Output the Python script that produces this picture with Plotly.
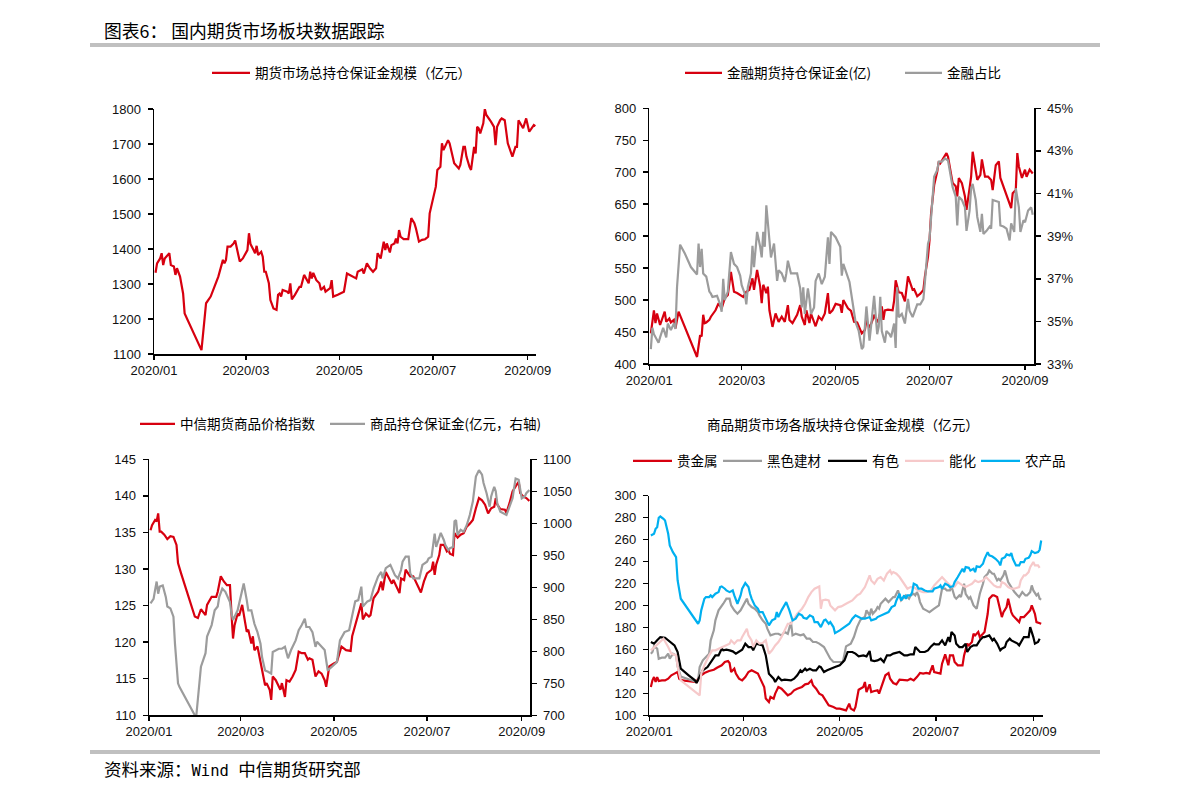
import plotly.graph_objects as go

W, H = 1191, 796

# ---------------- data ----------------
# Panel 1: 期货市场总持仓保证金规模（亿元）
p1_dates = ["01-02","01-03","01-05","01-06","01-07","01-08","01-11","01-12","01-14","01-15","01-16","01-18","01-20","01-21",
            "02-01","02-03","02-04","02-07","02-10","02-12","02-15","02-16","02-17","02-18","02-20","02-22","02-23","02-24","02-26","02-28",
            "03-02","03-03","03-04","03-06","03-07","03-08","03-09","03-11","03-12","03-13","03-14","03-16","03-17","03-19","03-21","03-22","03-23","03-24","03-25","03-28","03-29","03-30","03-31",
            "04-02","04-05","04-06","04-08","04-11","04-12","04-13","04-14","04-16","04-18","04-19","04-21","04-22","04-25","04-26","04-27","04-30",
            "05-04","05-06","05-10","05-12","05-13","05-16","05-17","05-19","05-21","05-23","05-25","05-26","05-28","05-30","05-31",
            "06-01","06-03","06-04","06-06","06-07","06-08","06-09","06-10","06-12","06-15","06-17","06-19","06-20","06-22","06-24","06-26","06-28","06-29",
            "07-01","07-03","07-04","07-06","07-07","07-08","07-11","07-12","07-15","07-18","07-19","07-21","07-22","07-23","07-25","07-26","07-28","07-29","07-30","07-31",
            "08-01","08-03","08-04","08-05","08-08","08-10","08-11","08-12","08-14","08-15","08-17","08-19","08-22","08-24","08-25","08-26","08-29","08-31",
            "09-02","09-05","09-06"]
p1_total = [1332,1359,1373,1388,1354,1373,1388,1354,1350,1326,1345,1321,1273,1216,
            1111,1188,1245,1264,1302,1321,1369,1359,1369,1407,1407,1416,1424,1402,1364,1373,
            1397,1445,1414,1397,1388,1409,1383,1392,1378,1335,1335,1302,1254,1230,1226,1269,1273,1264,1283,1278,1273,1302,1256,
            1269,1292,1292,1326,1302,1335,1316,1332,1311,1302,1283,1292,1278,1288,1311,1264,1269,
            1278,1330,1321,1316,1335,1342,1330,1359,1345,1335,1345,1388,1373,1421,1397,
            1416,1390,1411,1416,1430,1416,1454,1435,1428,1428,1488,1474,1459,1421,1426,1428,1435,1502,
            1540,1578,1626,1635,1702,1683,1711,1702,1645,1630,1640,1692,1692,1664,1635,1626,1692,1673,1749,1745,
            1730,1759,1800,1783,1764,1749,1697,1749,1768,1773,1768,1702,1664,1692,1692,1768,1745,1773,
            1735,1754,1751]

# Panel 2: 金融期货持仓保证金(亿) / 金融占比(%)
p2_fin_dates = ["01-02","01-04","01-05","01-06","01-08","01-11","01-12","01-14","01-15","01-17","01-18","01-20",
                "02-01","02-03","02-04","02-05","02-06","02-07","02-09","02-10","02-13","02-15","02-17","02-19","02-21","02-23","02-25","02-27",
                "03-02","03-04","03-06","03-08","03-09","03-11","03-13","03-14","03-15","03-17","03-18","03-19","03-21","03-23","03-25","03-27","03-29","03-31",
                "04-01","04-03","04-06","04-08","04-09","04-11","04-12","04-14","04-15","04-18","04-20","04-22","04-24","04-26","04-27","04-29",
                "05-01","05-04","05-05","05-06","05-09","05-11","05-13","05-15","05-18","05-20","05-21","05-23","05-25","05-26","05-28","05-29","05-31",
                "06-01","06-02","06-04","06-07","06-08","06-09","06-11","06-13","06-15","06-17","06-19","06-20","06-21","06-23","06-25","06-27","06-28","06-30",
                "07-01","07-02","07-04","07-06","07-07","07-08","07-10","07-12","07-13","07-15","07-16","07-18","07-19","07-20","07-22","07-24","07-25","07-27","07-28","07-29","07-31",
                "08-01","08-03","08-04","08-06","08-08","08-10","08-11","08-13","08-15","08-16","08-19","08-21","08-23","08-24","08-26","08-27","08-28","08-30",
                "09-01","09-02","09-04","09-06"]
p2_fin_margin = [448,484,464,479,461,482,466,471,465,469,456,482,
                 411,445,443,477,464,465,469,474,484,495,487,503,508,544,513,511,
                 505,513,516,534,516,547,521,495,524,511,521,484,458,479,466,474,466,492,
                 469,464,477,492,474,461,484,464,479,459,474,469,479,511,479,484,
                 494,492,480,500,487,483,466,465,448,453,469,456,469,477,465,471,490,
                 469,484,485,484,499,531,512,511,498,537,524,516,517,506,510,516,537,568,
                 594,636,680,701,717,714,722,730,724,698,683,678,662,691,683,662,641,675,693,732,701,
                 688,696,720,693,693,688,672,711,717,691,672,658,644,667,672,730,709,691,
                 704,693,704,698]

p2_share_dates = ["01-02","01-03","01-04","01-05","01-07","01-08","01-10","01-12","01-13","01-15","01-17","01-18","01-19","01-21","01-24","01-28",
                  "02-01","02-02","02-03","02-04","02-05","02-07","02-09","02-10","02-11","02-14","02-16","02-17","02-18","02-19","02-21","02-23","02-25","02-27","02-29",
                  "03-01","03-03","03-04","03-05","03-07","03-08","03-09","03-11","03-13","03-14","03-15","03-16","03-17","03-19","03-20","03-22","03-24","03-25","03-27","03-29","03-30","03-31",
                  "04-02","04-06","04-08","04-09","04-10","04-11","04-13","04-14","04-15","04-17","04-18","04-20","04-22","04-24","04-26","04-27","04-28",
                  "05-01","05-04","05-05","05-06","05-10","05-12","05-14","05-16","05-18","05-19","05-21","05-22","05-23","05-24","05-26","05-28","05-29","05-30","05-31",
                  "06-02","06-03","06-05","06-06","06-08","06-09","06-10","06-11","06-13","06-15","06-17","06-18","06-20","06-23","06-25","06-27","06-28","06-30",
                  "07-01","07-02","07-04","07-06","07-07","07-09","07-11","07-13","07-15","07-16","07-18","07-19","07-20","07-22","07-24","07-25","07-27","07-28","07-29","07-31",
                  "08-01","08-03","08-04","08-05","08-07","08-09","08-10","08-11","08-15","08-16","08-18","08-20","08-22","08-23","08-25","08-26","08-28","08-29","08-31",
                  "09-01","09-03","09-05","09-06"]
p2_fin_share = [33.7,34.7,34.4,34.25,34.0,34.25,34.7,34.25,34.9,34.6,34.9,34.65,36.6,38.6,38.2,37.55,
                37.2,38.65,37.55,38.4,37.25,37.1,36.4,36.3,36.15,36.2,35.8,35.45,37.0,36.0,36.4,38.25,37.7,37.55,37.15,
                36.7,36.3,35.8,36.6,37.25,38.55,37.55,39.2,38.5,38.0,39.2,38.5,40.45,38.5,38.0,38.65,36.9,37.4,37.25,36.85,37.25,37.85,
                37.25,37.25,36.55,35.65,36.6,35.35,36.55,36.05,35.35,35.65,36.9,37.25,36.75,37.1,38.95,37.7,39.2,
                38.95,38.5,37.15,37.7,36.85,35.8,34.95,34.55,33.7,33.8,35.7,34.9,34.1,34.75,36.2,34.4,34.75,36.15,34.55,
                34.0,34.55,34.4,34.25,34.9,33.75,36.6,35.2,35.35,34.9,36.05,35.5,35.2,35.8,35.8,36.05,36.85,38.65,
                38.9,40.0,41.8,42.1,42.5,42.5,42.65,42.55,41.65,41.3,40.85,39.5,40.85,40.7,40.35,39.25,40.2,41.25,41.45,40.7,
                39.9,39.2,40.05,39.1,39.25,39.45,39.35,40.7,40.6,39.5,39.45,39.35,38.8,39.6,39.2,41.25,40.35,39.2,39.75,
                39.65,40.2,40.35,40.0]

# Panel 3: 中信期货商品价格指数 / 商品持仓保证金(亿元，右轴)
p3_idx_dates = ["01-02","01-03","01-05","01-06","01-07","01-08","01-09","01-11","01-13","01-15","01-17","01-19","01-20","01-22","01-31",
                "02-02","02-04","02-05","02-07","02-08","02-11","02-14","02-15","02-17","02-19","02-21","02-23","02-24","02-25","02-26","02-28","02-29",
                "03-02","03-04","03-05","03-06","03-08","03-09","03-10","03-12","03-14","03-15","03-17","03-18","03-20","03-21","03-22","03-24","03-26","03-27","03-28","03-30","03-31",
                "04-02","04-04","04-06","04-08","04-10","04-12","04-14","04-15","04-17","04-19","04-21","04-23","04-25","04-26","04-28",
                "05-01","05-03","05-06","05-08","05-09","05-12","05-13","05-15","05-17","05-19","05-20","05-22","05-24","05-25","05-27","05-30",
                "06-01","06-02","06-04","06-06","06-08","06-09","06-11","06-13","06-14","06-16","06-17","06-20","06-22","06-25","06-27","06-29",
                "07-01","07-04","07-05","07-06","07-07","07-09","07-10","07-12","07-14","07-15","07-16","07-18","07-19","07-21","07-23","07-25","07-27","07-29","07-31",
                "08-02","08-04","08-06","08-08","08-10","08-12","08-14","08-15","08-16","08-18","08-21","08-22","08-24","08-26","08-28","08-30","08-31",
                "09-02","09-04","09-06"]
p3_index = [135.3,136.0,136.7,136.5,137.6,135.1,135.1,134.7,134.1,134.5,134.4,133.3,130.8,129.4,123.5,
            123.3,124.5,124.2,123.7,125.1,126.2,126.2,126.9,129.0,128.3,127.8,127.8,123.9,120.5,122.3,123.9,123.6,
            125.1,122.6,121.4,121.7,119.8,120.8,118.9,119.4,117.3,116.0,114.1,114.4,113.5,112.1,115.3,114.8,113.9,113.5,114.4,112.5,114.8,
            114.6,115.3,116.2,118.7,118.5,118.5,117.6,117.8,117.6,115.3,116.0,115.7,114.8,113.9,116.7,
            117.1,117.3,119.4,119.1,118.9,118.8,120.8,122.3,123.9,125.3,123.1,123.9,123.5,123.7,126.0,126.9,
            128.3,127.1,129.6,128.7,128.0,128.5,127.6,126.7,128.7,128.5,129.9,129.0,129.0,127.6,126.8,128.3,
            129.4,129.9,131.0,129.2,130.6,131.9,133.3,133.3,132.4,132.6,132.1,131.9,134.9,134.3,134.7,134.9,135.8,136.2,136.7,
            138.3,139.7,139.4,138.8,137.6,138.3,138.5,139.7,138.8,138.2,138.1,137.7,139.0,140.6,141.3,141.9,140.4,
            139.9,139.7,139.3]

p3_cm_dates = ["01-02","01-04","01-05","01-06","01-07","01-08","01-10","01-12","01-13","01-15","01-17","01-18","01-20","01-21","01-31",
               "02-01","02-04","02-05","02-07","02-08","02-11","02-13","02-15","02-16","02-18","02-20","02-22","02-23","02-24","02-25","02-28",
               "03-02","03-03","03-05","03-06","03-08","03-10","03-12","03-14","03-15","03-17","03-19","03-21","03-22","03-24","03-26","03-28","03-30",
               "04-01","04-03","04-06","04-08","04-10","04-12","04-13","04-15","04-17","04-19","04-20","04-23","04-25","04-27","04-30",
               "05-03","05-05","05-08","05-11","05-12","05-14","05-15","05-17","05-19","05-20","05-23","05-25","05-27","05-30",
               "06-01","06-02","06-04","06-07","06-08","06-10","06-12","06-14","06-15","06-17","06-19","06-20","06-22","06-26","06-28",
               "07-01","07-02","07-04","07-05","07-06","07-07","07-08","07-10","07-12","07-13","07-15","07-16","07-18","07-19","07-20","07-21","07-23","07-25","07-27","07-29","07-31",
               "08-02","08-04","08-06","08-07","08-09","08-11","08-12","08-13","08-14","08-15","08-16","08-18","08-20","08-22","08-24","08-26","08-27","08-28","08-30","08-31",
               "09-01","09-03","09-04","09-06"]
p3_cm_margin = [875,882,896,909,890,901,903,885,870,867,854,812,750,744,700,
                700,776,783,797,823,841,864,870,885,898,893,883,877,859,849,864,
                896,906,880,864,864,843,830,812,791,770,768,765,799,802,804,804,807,
                789,802,817,833,841,851,838,838,830,807,815,807,802,770,776,
                783,817,830,833,844,870,878,880,901,870,878,880,898,917,
                924,914,930,935,930,919,914,927,940,948,948,922,914,914,935,
                940,945,948,966,984,963,971,985,974,966,958,961,963,1003,1005,982,990,987,997,1013,1034,
                1073,1083,1076,1063,1047,1026,1042,1050,1057,1050,1031,1018,1016,1013,1026,1039,1055,1070,1068,1055,
                1039,1042,1047,1052]

# Panel 4: 商品期货市场各版块持仓保证金规模（亿元）
p4_pm_dates = ["01-02","01-03","01-04","01-05","01-06","01-07","01-09","01-11","01-13","01-15","01-17","01-19","01-20","01-22","01-31",
               "02-01","02-03","02-05","02-08","02-11","02-13","02-16","02-18","02-20","02-21","02-22","02-24","02-25","02-27","02-29",
               "03-02","03-04","03-06","03-08","03-10","03-12","03-14","03-15","03-17","03-18","03-20","03-21","03-23","03-25","03-27","03-29","03-31",
               "04-02","04-04","04-07","04-09","04-11","04-13","04-14","04-16","04-18","04-20","04-22","04-24","04-27","04-29",
               "05-01","05-03","05-05","05-07","05-08","05-10","05-11","05-13","05-15","05-16","05-17","05-18","05-20","05-21","05-23","05-25","05-26","05-28","05-29","05-30",
               "06-01","06-02","06-04","06-06","06-08","06-11","06-13","06-15","06-17","06-19","06-21","06-23","06-25","06-27","06-29","06-30",
               "07-02","07-04","07-05","07-07","07-09","07-10","07-12","07-13","07-15","07-18","07-19","07-21","07-22","07-23","07-24","07-25","07-26","07-28","07-29","07-31",
               "08-01","08-03","08-04","08-06","08-07","08-09","08-11","08-12","08-13","08-14","08-15","08-16","08-18","08-19","08-21","08-23","08-24","08-26","08-28","08-30","08-31",
               "09-02","09-03","09-05","09-06"]
p4_precious = [125.8,131.8,134.8,130.3,134.8,131.2,131.8,131.8,133.3,136.4,137.9,139.4,133.3,131.8,130.3,
               133.3,136.4,138.5,140.3,141.5,143.3,145.5,148.5,149.4,147.6,139.4,142.4,137.9,133.3,131.8,
               134.8,139.4,140.9,139.4,137.9,131.8,125.8,115.2,112.1,116.7,115.2,119.7,125.8,124.2,121.2,118.2,119.7,
               122.7,124.2,125.8,128.2,128.8,131.8,127.3,124.2,119.7,118.2,113.6,109.1,107.6,106.1,
               106.1,105.2,104.5,110.6,106.1,104.5,107.6,123.3,125.2,125.8,130.3,121.2,128.2,121.2,122.1,122.7,119.7,128.8,131.8,136.4,
               138.5,133.3,129.4,128.2,132.4,132.4,131.8,133.3,131.8,134.8,138.5,137.9,138.5,137.9,145.5,139.4,
               138.5,137.9,147.0,155.5,145.5,154.5,154.5,148.5,145.5,145.5,154.5,165.2,163.6,165.2,166.7,174.2,172.7,175.8,171.2,174.2,
               175.8,192.4,206.1,209.1,209.1,207.6,197.0,189.4,193.9,197.0,198.5,206.1,193.9,190.9,187.9,184.8,189.4,189.4,192.4,195.5,200.0,
               192.4,184.8,183.3,183.3]

p4_fb_dates = ["01-02","01-03","01-04","01-06","01-07","01-09","01-11","01-13","01-14","01-16","01-18","01-19","01-21","01-31",
               "02-01","02-02","02-04","02-06","02-08","02-09","02-11","02-12","02-14","02-17","02-19","02-21","02-22","02-24","02-26","02-28",
               "03-02","03-03","03-04","03-06","03-08","03-10","03-11","03-13","03-15","03-16","03-18","03-21","03-23","03-25","03-27","03-29","03-31",
               "04-01","04-03","04-06","04-08","04-10","04-12","04-14","04-16","04-18","04-21","04-23","04-25","04-27",
               "05-03","05-05","05-08","05-10","05-12","05-14","05-15","05-17","05-18","05-20","05-21","05-22","05-24","05-25","05-26","05-27","05-29","05-30",
               "06-01","06-02","06-04","06-05","06-07","06-08","06-09","06-11","06-12","06-14","06-15","06-17","06-18","06-19","06-20","06-21","06-23","06-25","06-27","06-30",
               "07-03","07-05","07-07","07-08","07-10","07-11","07-13","07-14","07-16","07-17","07-19","07-20","07-22","07-23","07-25","07-27","07-29","07-31",
               "08-01","08-03","08-04","08-06","08-07","08-09","08-10","08-11","08-13","08-14","08-15","08-16","08-18","08-20","08-22","08-23","08-25","08-27","08-28","08-30","08-31",
               "09-01","09-03","09-04","09-05","09-06"]
p4_ferrous = [156.1,157.6,162.7,160.6,151.5,152.4,152.4,156.1,151.5,156.1,154.5,144.5,135.2,130.3,
              131.8,144.0,150.0,153.0,156.1,168.2,177.3,186.4,195.5,201.5,206.1,206.1,200.0,195.5,192.4,195.5,
              204.5,206.1,201.5,198.5,197.0,193.9,190.9,186.4,183.3,178.8,172.7,174.2,174.2,172.7,175.8,174.2,184.8,
              172.7,174.2,172.7,173.6,169.7,169.7,166.7,166.7,165.2,162.1,156.1,151.5,148.5,
              148.5,162.7,165.2,171.2,180.3,186.4,187.9,189.4,195.5,190.9,197.0,192.4,195.5,198.5,197.0,201.5,204.5,206.1,
              203.0,204.5,207.6,207.6,213.6,209.1,204.5,207.6,209.1,206.1,209.1,210.6,209.1,212.1,209.1,203.0,197.0,195.5,193.9,197.0,
              200.0,215.2,215.2,213.6,213.6,217.3,207.6,206.1,209.1,207.6,219.7,210.6,206.1,207.6,200.0,197.0,210.6,219.7,
              225.8,228.8,231.8,228.8,228.8,222.7,224.2,222.7,227.3,231.8,225.8,221.2,216.7,212.1,209.1,207.6,212.1,209.1,209.1,212.1,218.2,
              213.6,209.1,210.6,206.1,205.2]

p4_nf_dates = ["01-02","01-04","01-06","01-08","01-11","01-13","01-15","01-17","01-19","01-21","01-26","01-30","01-31",
               "02-02","02-04","02-07","02-09","02-10","02-12","02-14","02-16","02-17","02-19","02-21","02-23","02-25","02-27","02-29",
               "03-02","03-04","03-06","03-07","03-09","03-11","03-13","03-15","03-16","03-17","03-20","03-21","03-23","03-25","03-27","03-29","03-31",
               "04-02","04-04","04-06","04-07","04-09","04-10","04-12","04-14","04-16","04-18","04-19","04-21","04-23","04-25","04-28",
               "05-01","05-02","05-04","05-06","05-09","05-11","05-13","05-16","05-18","05-20","05-21","05-23","05-25","05-27","05-29","05-31",
               "06-02","06-04","06-06","06-08","06-11","06-13","06-15","06-17","06-18","06-19","06-21","06-24","06-26","06-28","06-30",
               "07-01","07-03","07-05","07-07","07-09","07-10","07-11","07-13","07-14","07-16","07-18","07-20","07-21","07-23","07-25","07-27","07-29","07-31",
               "08-01","08-03","08-04","08-06","08-07","08-09","08-11","08-12","08-14","08-15","08-17","08-18","08-20","08-22","08-23","08-25","08-26","08-29","08-30",
               "09-01","09-02","09-04","09-05"]
p4_nonferrous = [166.7,165.2,168.2,171.2,170.6,168.2,165.2,163.6,157.6,142.4,136.4,131.8,129.4,
                 134.8,140.9,143.9,148.5,150.0,154.5,154.5,160.6,159.1,159.7,159.1,158.2,156.1,157.6,159.7,
                 165.2,162.1,162.1,159.1,165.2,164.2,163.6,154.5,143.9,137.9,133.3,130.3,134.8,131.8,132.4,131.8,131.8,
                 133.3,136.4,140.9,139.4,142.4,140.9,142.4,140.9,140.9,144.5,143.9,139.4,140.9,142.4,143.9,
                 145.5,147.0,150.0,157.6,157.6,156.1,153.6,154.5,153.6,158.5,150.0,149.4,150.0,151.5,148.5,154.5,
                 154.5,156.1,156.7,157.6,154.5,154.5,155.5,155.5,162.1,160.6,157.6,157.6,159.1,162.7,165.2,
                 164.5,164.5,168.2,163.6,171.2,166.7,175.8,172.7,165.2,162.1,162.1,165.2,157.6,162.1,163.6,163.6,168.2,171.2,
                 171.2,171.8,172.7,168.2,169.7,165.2,159.1,160.6,162.1,166.7,169.7,168.2,166.7,165.2,163.6,169.7,171.2,171.2,180.3,
                 171.2,165.2,166.7,169.7]

p4_en_dates = ["01-02","01-05","01-07","01-10","01-13","01-15","01-18","01-19","01-21",
               "02-02","02-03","02-05","02-08","02-10","02-12","02-14","02-17","02-19","02-21","02-22","02-23","02-24","02-26","02-28","02-29",
               "03-02","03-03","03-04","03-06","03-07","03-09","03-11","03-13","03-15","03-17","03-19","03-21","03-23","03-25","03-27","03-29","03-31",
               "04-02","04-04","04-07","04-09","04-11","04-13","04-15","04-17","04-18","04-19","04-20","04-22","04-24","04-25","04-28","04-30",
               "05-02","05-05","05-09","05-12","05-14","05-17","05-20","05-21","05-23","05-25","05-27","05-29","05-31",
               "06-02","06-03","06-04","06-06","06-08","06-11","06-13","06-15","06-17","06-20","06-23","06-25","06-28","06-30",
               "07-03","07-05","07-07","07-09","07-11","07-13","07-15","07-18","07-20","07-22","07-24","07-26","07-28","07-31",
               "08-02","08-03","08-04","08-07","08-09","08-11","08-12","08-14","08-16","08-18","08-20","08-23","08-24","08-26","08-27","08-29","08-30",
               "09-01","09-02","09-04","09-05"]
p4_energy = [159.1,163.0,165.5,169.7,162.1,156.1,154.5,144.5,131.8,
             118.2,137.9,145.5,154.5,159.1,159.1,160.6,162.1,163.6,165.2,168.2,166.7,165.2,168.2,168.2,171.2,
             175.8,178.8,172.7,168.2,162.1,168.2,165.2,165.8,168.2,156.1,159.1,163.6,166.7,171.2,177.3,183.3,183.3,
             187.9,192.4,197.0,201.5,207.6,212.1,215.2,216.7,217.3,197.0,204.5,205.2,204.5,200.0,195.5,198.5,
             199.1,201.5,204.5,209.1,210.6,216.7,227.3,222.7,219.7,224.2,225.8,222.7,228.8,
             231.8,228.8,230.3,228.8,225.8,219.7,215.2,216.7,216.7,213.6,212.1,212.1,213.6,218.2,
             222.7,225.8,222.7,219.7,216.7,217.3,221.2,218.2,216.7,218.2,219.7,222.7,221.2,222.7,
             225.8,224.2,222.7,218.2,216.7,216.7,221.2,219.7,216.7,215.2,215.2,216.7,222.7,227.3,227.3,230.3,234.8,
             239.4,236.4,236.4,234.2]

p4_ag_dates = ["01-02","01-04","01-05","01-06","01-07","01-08","01-10","01-11","01-13","01-14","01-16","01-18","01-19","01-21",
               "02-01","02-02","02-03","02-05","02-06","02-08","02-09","02-10","02-12","02-14","02-15","02-16","02-18","02-19","02-21","02-23","02-24","02-26","02-28","02-29",
               "03-02","03-04","03-05","03-06","03-08","03-10","03-11","03-13","03-14","03-15","03-17","03-19","03-21","03-22","03-23","03-25","03-26","03-27","03-28","03-30",
               "04-01","04-03","04-05","04-07","04-08","04-10","04-12","04-14","04-15","04-17","04-19","04-21","04-22","04-24","04-25","04-27","04-28",
               "05-01","05-04","05-07","05-09","05-11","05-13","05-15","05-17","05-20","05-21","05-24","05-25","05-27","05-29","05-30",
               "06-01","06-03","06-05","06-06","06-08","06-09","06-11","06-12","06-13","06-15","06-16","06-17","06-19","06-20","06-22","06-24","06-26","06-29","06-30",
               "07-03","07-04","07-05","07-07","07-09","07-10","07-12","07-13","07-15","07-16","07-18","07-19","07-20","07-22","07-23","07-25","07-26","07-27","07-29","07-31",
               "08-01","08-03","08-04","08-06","08-08","08-10","08-11","08-12","08-14","08-15","08-17","08-18","08-19","08-21","08-23","08-24","08-26","08-27","08-29","08-30","08-31",
               "09-02","09-04","09-05","09-06"]
p4_agri = [263.6,265.2,269.7,271.2,279.7,280.9,278.8,277.3,265.2,254.5,248.5,244.0,222.7,206.1,
           183.3,186.4,195.5,206.1,207.6,207.6,209.1,207.6,210.6,212.1,216.7,217.3,215.2,213.6,212.1,213.6,209.1,201.5,209.1,215.2,
           220.3,216.7,210.6,206.1,200.0,197.0,193.9,193.9,190.9,187.9,181.8,186.4,187.9,193.9,189.4,195.5,198.5,201.5,203.0,195.5,
           186.4,187.9,192.4,190.9,188.8,187.9,190.9,189.4,184.8,184.8,180.3,186.4,187.0,183.3,184.8,180.3,174.8,
           177.3,180.3,183.3,187.9,190.9,189.4,187.9,187.9,189.4,186.4,187.9,189.4,190.9,192.4,192.4,
           193.9,198.5,200.0,204.5,210.6,204.5,209.1,206.1,209.1,209.1,212.1,219.7,218.2,215.2,215.2,213.6,212.7,212.7,215.2,
           216.7,218.2,215.2,219.7,218.2,216.7,217.3,221.2,225.8,228.8,233.3,230.3,234.8,234.2,231.8,233.3,230.3,235.5,234.8,237.9,
           242.4,248.5,245.5,244.5,242.4,239.4,236.4,242.4,243.9,246.4,245.5,247.6,242.4,236.4,236.4,239.4,239.4,242.4,243.3,245.5,249.4,
           247.6,248.5,250.6,259.1]

# ---------------- styling ----------------
RED = "#d7000f"
GREY = "#9c9c9c"
BLACK = "#000000"
PINK = "#f6c9ca"
BLUE = "#00b0f0"
CJK = "Noto Sans CJK SC"
NUM = "Liberation Sans"
TICKFONT = dict(family=NUM, size=13, color="#111111")


def full(ds):
    return ["2020-" + d for d in ds]


def px_x(p):
    return p / W


def px_y(p):
    return 1 - p / H


fig = go.Figure()


def add(dates, vals, name, color, xa, ya, legend, lw=None):
    assert len(dates) == len(vals), (name, len(dates), len(vals))
    fig.add_trace(go.Scatter(
        x=full(dates), y=vals, name=name, mode="lines",
        line=dict(color=color, width=2.2), xaxis=xa, yaxis=ya,
        legend=legend, legendwidth=lw, hoverinfo="skip"))


add(p1_dates, p1_total, "期货市场总持仓保证金规模（亿元）", RED, "x", "y", "legend")
add(p2_fin_dates, p2_fin_margin, "金融期货持仓保证金(亿)", RED, "x2", "y2", "legend2", 168)
add(p2_share_dates, p2_fin_share, "金融占比", GREY, "x2", "y3", "legend2")
add(p3_idx_dates, p3_index, "中信期货商品价格指数", RED, "x3", "y4", "legend3", 140)
add(p3_cm_dates, p3_cm_margin, "商品持仓保证金(亿元，右轴)", GREY, "x3", "y5", "legend3")
add(p4_pm_dates, p4_precious, "贵金属", RED, "x4", "y6", "legend4", 36)
add(p4_fb_dates, p4_ferrous, "黑色建材", GREY, "x4", "y6", "legend4", 51)
add(p4_nf_dates, p4_nonferrous, "有色", BLACK, "x4", "y6", "legend4", 23)
add(p4_en_dates, p4_energy, "能化", PINK, "x4", "y6", "legend4", 22)
add(p4_ag_dates, p4_agri, "农产品", BLUE, "x4", "y6", "legend4")


def xax(x0, x1, y_anchor, end):
    return dict(domain=[px_x(x0), px_x(x1)], anchor=y_anchor, type="date",
                range=["2020-01-01", end], tick0="2020-01-01", dtick="M2",
                tickformat="%Y/%m", showline=True, linecolor="#000", linewidth=1.5,
                ticks="outside", ticklen=4, tickwidth=1.5, tickcolor="#000",
                showgrid=False, zeroline=False, tickfont=TICKFONT, fixedrange=True)


def yax(y_top, y_bot, x_anchor, rng, dtick, side="left", overlaying=None, suffix=""):
    d = dict(anchor=x_anchor, range=rng, tick0=rng[0], dtick=dtick, side=side,
             showline=True, linecolor="#000", linewidth=1.5, ticks="outside",
             ticklen=5, tickwidth=1.5, tickcolor="#000", showgrid=False,
             zeroline=False, tickfont=TICKFONT, ticksuffix=suffix, fixedrange=True,
             ticklabelstandoff=4)
    if overlaying:
        d["overlaying"] = overlaying
    else:
        d["domain"] = [px_y(y_bot), px_y(y_top)]
    return d


def leg(xp, yp, iw):
    return dict(x=px_x(xp), y=px_y(yp), xanchor="left", yanchor="middle",
                orientation="h", font=dict(family=CJK, size=13.5, color="#000"),
                bgcolor="rgba(0,0,0,0)", borderwidth=0, itemclick=False,
                itemdoubleclick=False, tracegroupgap=0, itemwidth=iw)


fig.update_layout(
    width=W, height=H, margin=dict(l=0, r=0, t=0, b=0, pad=0, autoexpand=False),
    paper_bgcolor="#ffffff", plot_bgcolor="#ffffff",
    font=dict(family=CJK, color="#000"),
    showlegend=True,
    xaxis=xax(154, 536, "y", "2020-09-06 10:00"),
    yaxis=yax(109, 354, "x", [1100, 1800], 100),
    xaxis2=xax(649.3, 1034, "y2", "2020-09-06 20:00"),
    yaxis2=yax(108.3, 364, "x2", [400, 800], 50),
    yaxis3=yax(108.3, 364, "x2", [33, 45], 2, side="right", overlaying="y2", suffix="%"),
    xaxis3=xax(149, 530, "y4", "2020-09-06 10:00"),
    yaxis4=yax(459.3, 715.3, "x3", [110, 145], 5),
    yaxis5=yax(459.3, 715.3, "x3", [700, 1100], 50, side="right", overlaying="y4"),
    xaxis4=xax(649.3, 1043.3, "y6", "2020-09-07 08:00"),
    yaxis6=yax(495.5, 715.3, "x4", [100, 300], 20),
    legend=leg(207, 73, 38),
    legend2=leg(680, 73, 37),
    legend3=leg(135, 424, 35),
    legend4=leg(628, 461, 39),
)

fig.add_annotation(text="图表6： 国内期货市场板块数据跟踪", x=px_x(102), y=px_y(30),
                   xref="paper", yref="paper", xanchor="left", yanchor="middle",
                   showarrow=False, font=dict(family=CJK, size=17.8, color="#000"))
fig.add_annotation(
    text="资料来源：<span style=\"font-family:'DejaVu Sans Mono';font-size:15.5px\">Wind </span>中信期货研究部",
    x=px_x(102), y=px_y(768), xref="paper", yref="paper", xanchor="left", yanchor="middle",
    showarrow=False, font=dict(family=CJK, size=17.5, color="#000"))
fig.add_annotation(text="商品期货市场各版块持仓保证金规模（亿元）", x=px_x(843), y=px_y(424),
                   xref="paper", yref="paper", xanchor="center", yanchor="middle",
                   showarrow=False, font=dict(family=CJK, size=13.6, color="#000"))

for yb in (45, 752):
    fig.add_shape(type="line", xref="paper", yref="paper",
                  x0=px_x(90), x1=px_x(1100), y0=px_y(yb), y1=px_y(yb),
                  line=dict(color="#c0c0c0", width=4))

fig.write_html("out.html", config={"displayModeBar": False, "staticPlot": True},
               post_script="document.body.style.margin='0';document.body.style.overflow='hidden';")
